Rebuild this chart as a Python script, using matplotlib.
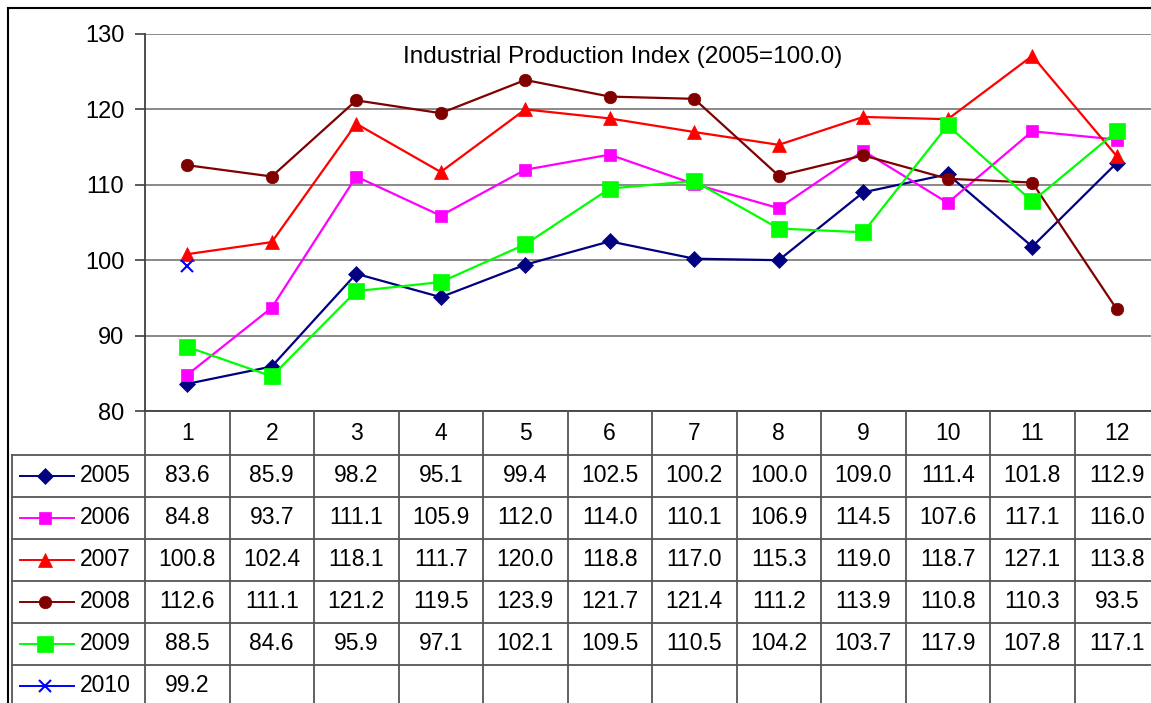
import matplotlib
matplotlib.use("Agg")
from matplotlib import pyplot as plt
from matplotlib.transforms import blended_transform_factory
import numpy as np

plt.rcParams['font.family'] = ['Liberation Sans', 'DejaVu Sans']

months = [1, 2, 3, 4, 5, 6, 7, 8, 9, 10, 11, 12]
years = ["2005", "2006", "2007", "2008", "2009", "2010"]
v2005 = [83.6, 85.9, 98.2, 95.1, 99.4, 102.5, 100.2, 100.0, 109.0, 111.4, 101.8, 112.9]
v2006 = [84.8, 93.7, 111.1, 105.9, 112.0, 114.0, 110.1, 106.9, 114.5, 107.6, 117.1, 116.0]
v2007 = [100.8, 102.4, 118.1, 111.7, 120.0, 118.8, 117.0, 115.3, 119.0, 118.7, 127.1, 113.8]
v2008 = [112.6, 111.1, 121.2, 119.5, 123.9, 121.7, 121.4, 111.2, 113.9, 110.8, 110.3, 93.5]
v2009 = [88.5, 84.6, 95.9, 97.1, 102.1, 109.5, 110.5, 104.2, 103.7, 117.9, 107.8, 117.1]
v2010 = [99.2]
series = [v2005, v2006, v2007, v2008, v2009, v2010]

colors = ["#000080", "#ff00ff", "#ff0000", "#800000", "#00ff00", "#0000ff"]
markers = ["D", "s", "^", "o", "s", "x"]
msizes = [8, 8.5, 10, 9, 11, 9]

W, H = 1151, 703
fig = plt.figure(figsize=(W / 100, H / 100), dpi=100)

# plot area in pixels
x0, x1, ytop, ybot = 145, 1159, 34, 411
ax = fig.add_axes([x0 / W, (H - ybot) / H, (x1 - x0) / W, (ybot - ytop) / H])
ax.set_xlim(0.5, 12.5)
ax.set_ylim(80, 130)
ax.set_yticks([80, 90, 100, 110, 120, 130])
ax.set_xticks([])
ax.tick_params(axis='y', labelsize=17, length=7, width=1.2, color='#404040', pad=8)
for s in ['top', 'right', 'bottom']:
    ax.spines[s].set_visible(False)
ax.spines['left'].set_color('#404040')
ax.spines['left'].set_linewidth(1.3)
ax.grid(axis='y', color='#808080', lw=1.3)
ax.set_axisbelow(True)

for vals, c, m, ms in zip(series, colors, markers, msizes):
    ax.plot(months[:len(vals)], vals, color=c, marker=m, ms=ms, lw=1.6,
            mew=1.5 if m == 'x' else 0.5, mec=c, clip_on=False)

ax.text((623 - x0) / (x1 - x0), 1 - (57 - ytop) / (ybot - ytop),
        "Industrial Production Index (2005=100.0)", transform=ax.transAxes,
        ha='center', va='center', fontsize=17.5)

# data table under the plot
px_per_unit = (x1 - x0) / 12.0
def px2x(px):
    return 0.5 + (px - x0) / px_per_unit
def py2y(py):
    return 1 - (py - ytop) / (ybot - ytop)

tr = blended_transform_factory(ax.transData, ax.transAxes)
lc = '#555555'
row_top = [411, 455, 497, 539, 581, 623, 665, 707]
left_px = 12

def hline(py, xa, xb):
    ax.plot([xa, xb], [py2y(py)] * 2, color=lc, lw=1.3, transform=tr, clip_on=False)

def vline(xd, pa, pb):
    ax.plot([xd, xd], [py2y(pa), py2y(pb)], color=lc, lw=1.3, transform=tr, clip_on=False)

ax.plot([0.5, 12.5], [0, 0], color='#404040', lw=1.3, transform=tr, clip_on=False)
for py in row_top[1:]:
    hline(py, px2x(left_px), 12.5)
for k in range(13):
    vline(0.5 + k, 411, 710)
vline(px2x(left_px), 455, 710)

for i, m in enumerate(months):
    ax.text(m, py2y((411 + 455) / 2), str(m), transform=tr, ha='center', va='center', fontsize=16.5)

for r, (yr, vals, c, mk, ms) in enumerate(zip(years, series, colors, markers, msizes)):
    yc = py2y((row_top[r + 1] + row_top[r + 2]) / 2)
    ax.plot([px2x(20), px2x(74)], [yc, yc], color=c, lw=1.4, transform=tr, clip_on=False)
    ax.plot([px2x(45)], [yc], color=c, marker=mk, ms=ms, mec=c,
            mew=1.5 if mk == 'x' else 0.5, transform=tr, clip_on=False)
    ax.text(px2x(80), yc, yr, transform=tr, ha='left', va='center', fontsize=16.5)
    for m, v in zip(months, vals):
        ax.text(m, yc, f"{v:.1f}", transform=tr, ha='center', va='center', fontsize=16.5)

# outer chart border
fig.add_artist(plt.Line2D([8 / W, 8 / W], [0, (H - 8) / H], color='black', lw=1.5))
fig.add_artist(plt.Line2D([8 / W, 1], [(H - 8) / H, (H - 8) / H], color='black', lw=1.5))

fig.savefig("out.png", dpi=100)
